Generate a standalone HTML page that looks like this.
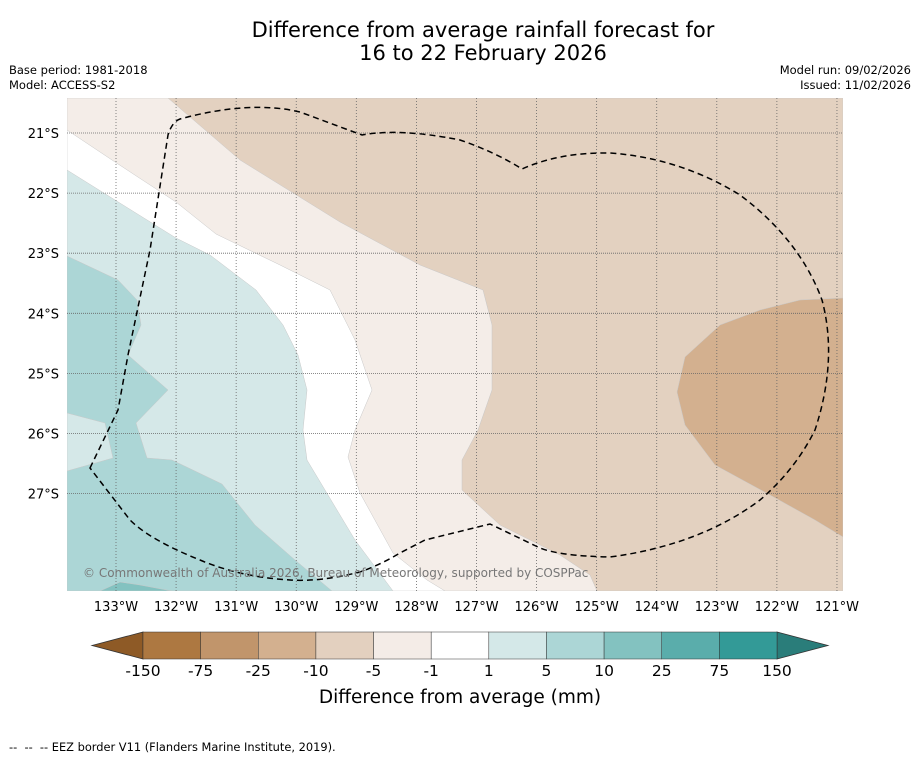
<!DOCTYPE html>
<html><head><meta charset="utf-8"><style>
body{margin:0;background:#fff;font-family:"DejaVu Sans","Liberation Sans",sans-serif;}
#wrap{position:relative;width:919px;height:758px;overflow:hidden;}
.t{position:absolute;white-space:nowrap;color:#000;}
</style></head><body>
<div id="wrap">
<div class="t" style="left:0;width:966px;text-align:center;top:19px;font-size:21px;line-height:23px;">Difference from average rainfall forecast for<br>16 to 22 February 2026</div>
<div class="t" style="left:9px;top:63px;font-size:11.5px;line-height:15px;">Base period: 1981-2018<br>Model: ACCESS-S2</div>
<div class="t" style="right:8px;top:63px;font-size:11.5px;line-height:15px;text-align:right;">Model run: 09/02/2026<br>Issued: 11/02/2026</div>
<div class="t" style="left:9px;top:740px;font-size:11.4px;">-- &nbsp;-- &nbsp;-- EEZ border V11 (Flanders Marine Institute, 2019).</div>
<svg id="svg" width="919" height="758" style="position:absolute;left:0;top:0" xmlns="http://www.w3.org/2000/svg"></svg>
</div>
<script>
const levelLabels=["-150","-75","-25","-10","-5","-1","1","5","10","25","75","150"];
const levelColors=["#ad7841","#c1956b","#d3b08f","#e3d0bf","#f4ece7","#ffffff","#d4e8e8","#acd6d6","#83c2c0","#5aadab","#339a97"];
const lonTicks=[133,132,131,130,129,128,127,126,125,124,123,122,121];
const latTicks=[21,22,23,24,25,26,27];
const NS="http://www.w3.org/2000/svg";
const svg=document.getElementById('svg');
function mk(tag,attrs,parent){const e=document.createElementNS(NS,tag);for(const k in attrs)e.setAttribute(k,attrs[k]);(parent||svg).appendChild(e);return e;}
const X0=67,X1=843,Y0=98,Y1=591;
const xLon=l=>116+(133-l)*60.08;
const yLat=l=>133+(l-21)*60.1;
const map=mk('g',{});


mk('clipPath',{id:'cp'},map);
mk('rect',{x:X0,y:Y0,width:X1-X0,height:Y1-Y0},document.getElementById('cp'));
const g=mk('g',{'clip-path':'url(#cp)'},map);
const regions=[
 ["#e3d1c0","67,98 843,98 843,591 67,591","region-minus10-minus5"],
 ["#f4ede8","168,98 240,160 340,222 420,265 483,290 492,325 492,390 478,430 462,460 462,490 500,525 560,555 590,575 597,591 67,591 67,98","region-minus5-minus1"],
 ["#ffffff","67,130 115,162 176,202 216,234 280,265 330,290 355,340 372,390 355,430 348,457 360,493 393,553 427,580 445,591 67,591","region-minus1-plus1"],
 ["#d5e8e8","67,170 115,200 176,238 210,255 256,290 283,325 298,355 307,390 303,430 307,460 325,490 355,540 393,591 67,591","region-1-5"],
 ["#acd6d6","67,256 118,280 137,300 141,325 128,355 168,390 136,423 147,458 172,460 222,484 255,525 295,560 332,591 67,591","region-5-10"],
 ["#d5e8e8","67,413 105,423 113,458 67,471","region-1-5-pocket"],
 ["#83c2c0","100,591 120,582 140,585 172,591","region-10-25"],
 ["#d3b08f","843,298 800,300 760,310 720,325 685,357 677,392 685,425 715,465 770,495 815,520 843,537","region-minus25-minus10"]
];
regions.forEach(r=>{const p=mk('polygon',{points:r[1],fill:r[0],stroke:'#c8c8c8','stroke-width':0.5},g);

});
lonTicks.forEach(l=>{const x=xLon(l);
const ln=mk('line',{x1:x,x2:x,y1:Y0,y2:Y1,stroke:'#666','stroke-width':0.8,'stroke-dasharray':'1,2'},g);


const t=mk('text',{x:x,y:611,'font-size':13,'text-anchor':'middle','font-family':'DejaVu Sans,Liberation Sans,sans-serif'});
t.textContent=l+'°W';

});
latTicks.forEach(l=>{const y=yLat(l);
const ln=mk('line',{x1:X0,x2:X1,y1:y,y2:y,stroke:'#666','stroke-width':0.8,'stroke-dasharray':'1,1'},g);


const t=mk('text',{x:59,y:y+5,'font-size':13,'text-anchor':'end','font-family':'DejaVu Sans,Liberation Sans,sans-serif'});
t.textContent=l+'°S';

});
const eez=mk('path',{d:"M90,468 L118,410 L128,355 L150,250 L168,135 Q172,122 180,119 Q250,100 300,112 L362,135 Q400,128 460,140 Q495,152 522,169 Q560,152 610,153 Q680,158 740,195 Q800,240 822,300 Q838,360 815,430 Q795,470 760,500 Q700,545 610,557 Q560,556 540,548 L490,524 L425,540 L400,553 Q380,565 360,572 Q320,582 290,580 Q240,577 200,560 Q150,540 130,520 Z",fill:'none',stroke:'#000','stroke-width':1.5,'stroke-dasharray':'6,4'},g);


const cr=mk('text',{x:83,y:577,'font-size':12,fill:'#777','font-family':'DejaVu Sans,Liberation Sans,sans-serif'},g);
cr.textContent='© Commonwealth of Australia 2026, Bureau of Meteorology, supported by COSPPac';


const cb=mk('g',{});


const B0=143,B1=777,BY=632,BH=27;
const bx=i=>B0+i*(B1-B0)/levelColors.length;
const lt=mk('polygon',{points:`${B0},${BY} 92,${BY+BH/2} ${B0},${BY+BH}`,fill:'#8e5a26',stroke:'#333','stroke-width':0.8},cb);


const rt=mk('polygon',{points:`${B1},${BY} 828,${BY+BH/2} ${B1},${BY+BH}`,fill:'#2a7d7a',stroke:'#333','stroke-width':0.8},cb);


levelColors.forEach((c,i)=>{const r=mk('rect',{x:bx(i),y:BY,width:bx(i+1)-bx(i),height:BH,fill:c,stroke:'#333','stroke-width':0.5},cb);

});
levelLabels.forEach((s,i)=>{const t=mk('text',{x:bx(i),y:676,'font-size':15.5,'text-anchor':'middle','font-family':'DejaVu Sans,Liberation Sans,sans-serif'},cb);
t.textContent=s;

});
const ct=mk('text',{x:460,y:703,'font-size':18.5,'text-anchor':'middle','font-family':'DejaVu Sans,Liberation Sans,sans-serif'},cb);
ct.textContent='Difference from average (mm)';


</script>
</body></html>
